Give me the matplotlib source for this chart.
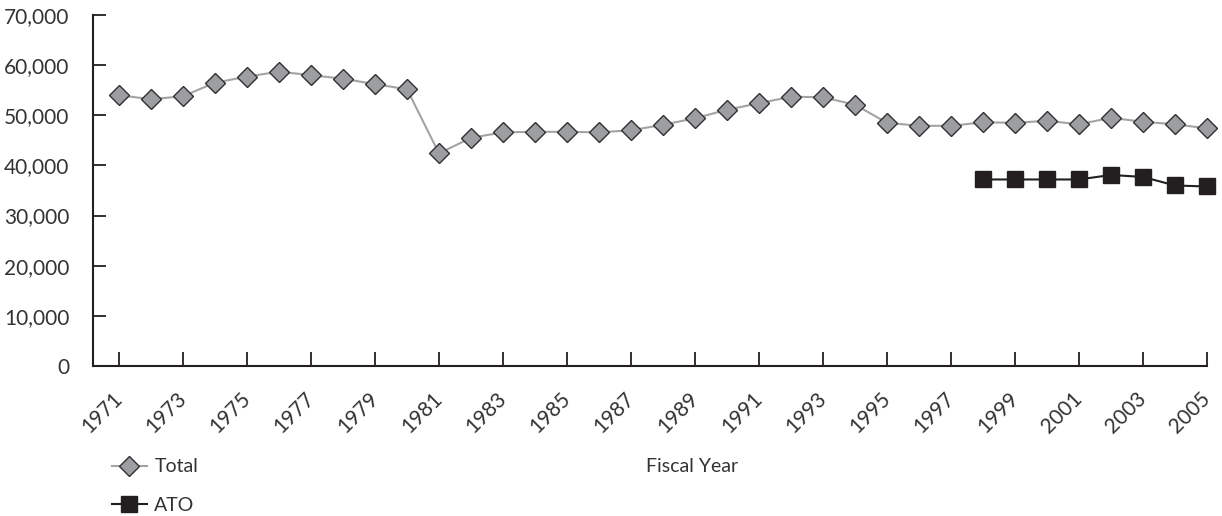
import matplotlib
matplotlib.use("Agg")
import matplotlib.pyplot as plt
from matplotlib.ticker import FuncFormatter
from matplotlib.transforms import ScaledTranslation

years = list(range(1971, 2006))
total = [54000, 53200, 53800, 56500, 57700, 58700, 58000, 57300, 56200, 55200,
         42400, 45500, 46600, 46700, 46700, 46600, 47000, 48100, 49400, 51100,
         52400, 53700, 53600, 52100, 48500, 47900, 47900, 48600, 48500, 48900,
         48200, 49500, 48700, 48200, 47400]
ato_years = list(range(1998, 2006))
ato = [37200, 37200, 37200, 37200, 38100, 37700, 36000, 35800]
tick_years = list(range(1971, 2006, 2))
y_ticks = list(range(0, 70001, 10000))

plt.rcParams['font.family'] = ['Lato', 'DejaVu Sans']
fig = plt.figure(figsize=(12.22, 5.16), dpi=100)
ax = fig.add_axes([93/1222, 1-366/516, (1207-93)/1222, (366-15)/516])

ax.plot(years, total, color='#a3a3a3', lw=1.5, marker='D', ms=10,
        mfc='#9d9ea2', mec='#303030', mew=1.0, label='Total', zorder=3,
        clip_on=False)
ax.plot(ato_years, ato, color='#231f20', lw=1.5, marker='s', ms=11,
        mfc='#231f20', mec='#231f20', label='ATO', zorder=3, clip_on=False)

ax.set_xlim(1971 - 26/32, 2005)
ax.set_ylim(0, 70000)
ax.set_yticks(y_ticks)
ax.yaxis.set_major_formatter(FuncFormatter(lambda v, p: f"{int(v):,}"))
ax.set_xticks(tick_years)
ax.set_xticklabels([str(y) for y in tick_years], rotation=45, ha='right',
                   va='center', rotation_mode='anchor')
off = ScaledTranslation(13/100, 0, fig.dpi_scale_trans)
for lab in ax.get_xticklabels():
    lab.set_transform(lab.get_transform() + off)
for s in ['top', 'right']:
    ax.spines[s].set_visible(False)
for s in ['left', 'bottom']:
    ax.spines[s].set_color('#231f20')
    ax.spines[s].set_linewidth(1.5)
ax.tick_params(axis='y', direction='in', length=9.5, width=1.3, colors='#231f20',
               labelsize=15, pad=17, labelcolor='#333333')
ax.tick_params(axis='x', direction='in', length=10, width=1.3, colors='#231f20',
               labelsize=15, pad=21, labelcolor='#333333')

fig.text(692/1222, 1-467/516, 'Fiscal Year', ha='center', va='center',
         fontsize=14, color='#333333')
fig.legend(loc='upper left', bbox_to_anchor=(94/1222, 1-441/516), frameon=False,
           fontsize=14, handlelength=1.8, labelspacing=1.1, handletextpad=0.4,
           labelcolor='#333333')

fig.savefig('out.png', dpi=100)
